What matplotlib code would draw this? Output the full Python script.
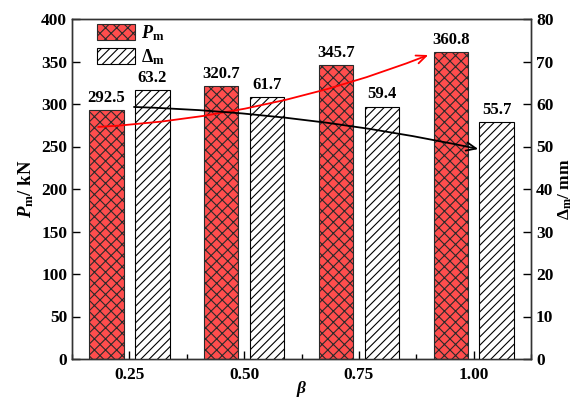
import matplotlib
matplotlib.use("Agg")
import matplotlib.pyplot as plt
import numpy as np
from matplotlib.ticker import MultipleLocator

plt.rcParams['font.family'] = ['Liberation Serif', 'DejaVu Serif']
plt.rcParams['font.weight'] = 'bold'
plt.rcParams['mathtext.fontset'] = 'custom'
plt.rcParams['mathtext.rm'] = 'Liberation Serif:bold'
plt.rcParams['mathtext.it'] = 'Liberation Serif:italic:bold'
plt.rcParams['mathtext.bf'] = 'Liberation Serif:bold'
plt.rcParams['hatch.linewidth'] = 0.8

# ---- data ----
beta = [0.25, 0.50, 0.75, 1.00]
beta_labels = ['0.25', '0.50', '0.75', '1.00']
P_m = [292.5, 320.7, 345.7, 360.8]          # kN (left axis)
D_m = [63.2, 61.7, 59.4, 55.7]              # mm (right axis)
# trend arrows (data coordinates)
P_trend_start = (0.182, 273.0)
P_trend_end = (0.901, 357.6)
D_trend_start = (0.260, 59.3)
D_trend_end = (1.010, 49.4)

red = '#ff4d4d'
bw = 0.075
off = 0.05

fig = plt.figure(figsize=(5.76, 4.0), dpi=100)
ax = fig.add_axes([0.125, 0.1025, 0.797, 0.85])
ax2 = ax.twinx()

x = np.array(beta)
b1 = ax.bar(x - off, P_m, width=bw, facecolor=red, edgecolor='#2a2a2a',
            hatch='xxx', linewidth=0.8, label=r'$\mathit{P}_\mathrm{m}$')
b2 = ax2.bar(x + off, D_m, width=bw, facecolor='white', edgecolor='black',
             hatch='////', linewidth=0.8, label=r'$\mathit{Δ}_\mathrm{m}$')

for xi, v in zip(x, P_m):
    ax.annotate(f'{v:.1f}', (xi - off, v), xytext=(0, 3), textcoords='offset points',
                ha='center', va='bottom', fontsize=12, fontweight='bold')
for xi, v in zip(x, D_m):
    ax2.annotate(f'{v:.1f}', (xi + off, v), xytext=(0, 3), textcoords='offset points',
                 ha='center', va='bottom', fontsize=12, fontweight='bold')

ax.set_xlim(0.125, 1.125)
ax.set_ylim(0, 400)
ax2.set_ylim(0, 80)
ax.set_xticks(beta)
ax.set_xticklabels(beta_labels)
ax.xaxis.set_minor_locator(MultipleLocator(0.125))
ax.yaxis.set_major_locator(MultipleLocator(50))
ax2.yaxis.set_major_locator(MultipleLocator(10))

ax.tick_params(axis='both', which='major', direction='in', length=6, width=1,
               labelsize=12.5, top=False)
ax.tick_params(axis='x', which='minor', direction='in', length=3.5, width=1, top=False)
ax.tick_params(axis='x', pad=6)
ax2.tick_params(axis='y', which='major', direction='in', length=6, width=1, labelsize=12.5)
for a in (ax, ax2):
    for lab in a.get_xticklabels() + a.get_yticklabels():
        lab.set_fontweight('bold')
    for s in a.spines.values():
        s.set_linewidth(1.0)
        s.set_color('#333333')

ax.set_xlabel(r'$\mathit{β}$', fontsize=12.5, labelpad=-3)
ax.set_ylabel(r'$\mathit{P}_\mathrm{m}$/ kN', fontsize=13.5, fontweight='bold', labelpad=4)
ax2.set_ylabel(r'$\mathit{Δ}_\mathrm{m}$/ mm', fontsize=12.5, fontweight='bold',
               rotation=90, labelpad=2)

# trend arrows drawn on top axis
ax2.annotate('', xy=P_trend_end, xycoords=ax.transData,
             xytext=P_trend_start, textcoords=ax.transData,
             arrowprops=dict(arrowstyle='->,head_length=0.7,head_width=0.3', color='red',
                             lw=1.3, shrinkA=0, shrinkB=0,
                             connectionstyle='arc3,rad=0.08'))
ax2.annotate('', xy=D_trend_end, xycoords=ax2.transData,
             xytext=D_trend_start, textcoords=ax2.transData,
             arrowprops=dict(arrowstyle='->,head_length=0.7,head_width=0.3', color='black',
                             lw=1.3, shrinkA=0, shrinkB=0,
                             connectionstyle='arc3,rad=-0.045'))

ax2.legend(handles=[b1, b2], loc='upper left', bbox_to_anchor=(0.045, 1.0),
           frameon=False, fontsize=13, handlelength=2.1, handleheight=1.0,
           handletextpad=0.3, labelspacing=0.2, borderaxespad=0.1, borderpad=0.15)

fig.savefig('out.png', dpi=100)
